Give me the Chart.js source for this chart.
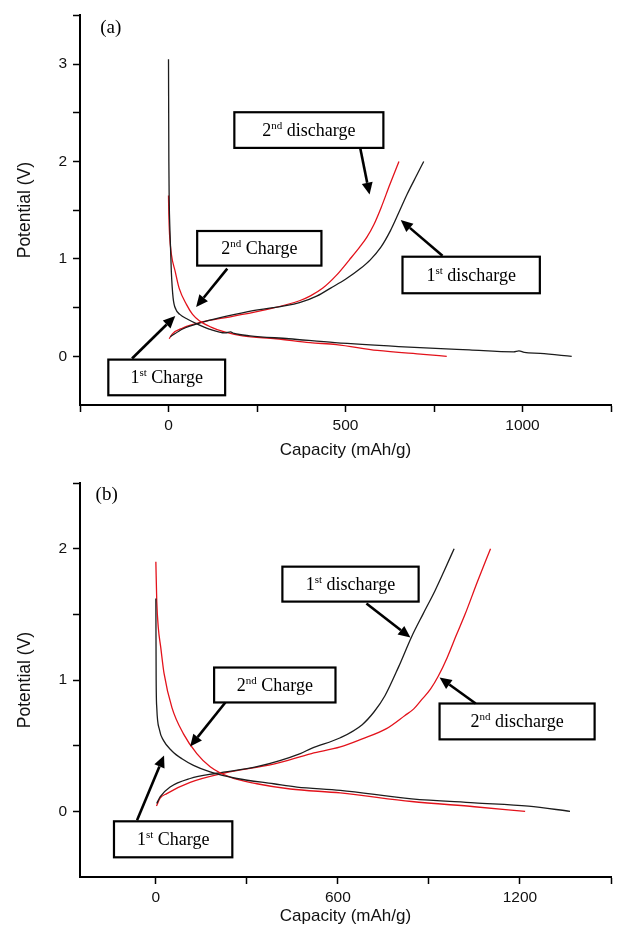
<!DOCTYPE html>
<html>
<head>
<meta charset="utf-8">
<script src="https://cdn.jsdelivr.net/npm/chart.js@4.4.1/dist/chart.umd.min.js"></script>
<style>
  html, body { margin: 0; padding: 0; background: #fff; }
  #wrap { position: relative; width: 622px; height: 928px; }
  canvas { position: absolute; left: 0; }
  #chartA { top: 0; }
  #chartB { top: 465px; }
</style>
</head>
<body>
<div id="wrap">
  <canvas id="chartA" width="622" height="465"></canvas>
  <canvas id="chartB" width="622" height="463"></canvas>
</div>
<script>
// ---- panel (a) data: capacity (mAh/g) / potential (V)
const aCharge1Cap = [0, 1, 2, 4, 8, 13, 21, 32, 54, 82, 115, 160, 175, 185, 230, 340, 470, 650, 850, 975, 990, 1005, 1050, 1139];
const aCharge1V   = [3.05, 2.0, 1.6, 1.3, 0.87, 0.6, 0.48, 0.43, 0.38, 0.33, 0.28, 0.24, 0.25, 0.235, 0.21, 0.18, 0.14, 0.10, 0.065, 0.045, 0.055, 0.04, 0.03, 0.0];
const aCharge2Cap = [0, 1, 3, 8, 19, 30, 51, 68, 87, 120, 158, 209, 304, 400, 474, 590, 720, 786];
const aCharge2V   = [1.65, 1.45, 1.25, 1.05, 0.87, 0.70, 0.53, 0.43, 0.365, 0.30, 0.25, 0.21, 0.18, 0.14, 0.12, 0.06, 0.02, 0.0];
const aDis1Cap = [5, 40, 87, 228, 370, 420, 458, 500, 542, 570, 600, 627, 650, 675, 700, 721];
const aDis1V   = [0.20, 0.28, 0.34, 0.46, 0.55, 0.62, 0.70, 0.79, 0.90, 0.99, 1.12, 1.29, 1.47, 1.67, 1.85, 2.0];
const aDis2Cap = [2, 11, 40, 87, 181, 276, 370, 401, 436, 474, 511, 540, 560, 580, 600, 625, 651];
const aDis2V   = [0.18, 0.23, 0.29, 0.345, 0.41, 0.48, 0.57, 0.62, 0.70, 0.83, 0.99, 1.12, 1.22, 1.35, 1.52, 1.76, 2.0];
const aXTicks = [-250, 0, 250, 500, 750, 1000, 1250];
const aXLabels = [0, 500, 1000];
const aYTicks = [0, 0.5, 1, 1.5, 2, 2.5, 3, 3.5];
const aYLabels = [0, 1, 2, 3];

// ---- panel (b) data
const bCharge1Cap = [0, 0.5, 1, 3, 12, 25, 53, 86, 124, 179, 267, 388, 465, 608, 843, 1050, 1228, 1365];
const bCharge1V   = [1.62, 1.3, 1.0, 0.79, 0.62, 0.54, 0.46, 0.40, 0.35, 0.30, 0.25, 0.21, 0.185, 0.16, 0.095, 0.065, 0.04, 0.0];
const bCharge2Cap = [0, 3, 8, 16, 27, 53, 91, 135, 179, 245, 333, 443, 608, 843, 1050, 1217];
const bCharge2V   = [1.90, 1.6, 1.4, 1.25, 1.05, 0.79, 0.59, 0.44, 0.34, 0.26, 0.21, 0.17, 0.14, 0.075, 0.035, 0.0];
const bDis1Cap = [3, 14, 47, 113, 201, 333, 476, 513, 608, 680, 720, 755, 800, 843, 880, 920, 950, 983];
const bDis1V   = [0.06, 0.11, 0.185, 0.25, 0.29, 0.34, 0.44, 0.48, 0.56, 0.66, 0.76, 0.88, 1.10, 1.33, 1.50, 1.68, 1.83, 2.0];
const bDis2Cap = [2, 14, 36, 113, 223, 388, 513, 608, 678, 760, 821, 850, 876, 905, 931, 960, 990, 1019, 1060, 1103];
const bDis2V   = [0.04, 0.10, 0.135, 0.22, 0.29, 0.36, 0.44, 0.49, 0.55, 0.63, 0.73, 0.78, 0.85, 0.93, 1.03, 1.17, 1.34, 1.50, 1.75, 2.0];
const bXTicks = [0, 300, 600, 900, 1200, 1500];
const bXLabels = [0, 600, 1200];
const bYTicks = [0, 0.5, 1, 1.5, 2, 2.5];
const bYLabels = [0, 1, 2];

const BLACK = '#1c1c1c';
const RED = '#e3121b';
const SANS = '"Liberation Sans", Arial, sans-serif';
const SERIF = '"Liberation Serif", "Times New Roman", serif';

function pts(cap, v) {
  return cap.map((c, i) => ({ x: c, y: v[i] }));
}

// callout boxes and arrows, given in data units
const aNotes = {
  tag: { text: '(a)', x: -163, y: 3.37 },
  boxes: [
    { num: '2', sup: 'nd', word: ' discharge', box: [186, 607, 2.505, 2.139], from: [542, 2.13], to: [568, 1.66] },
    { num: '1', sup: 'st', word: ' discharge', box: [661, 1049, 1.022, 0.647], from: [774, 1.033], to: [656, 1.398] },
    { num: '2', sup: 'nd', word: ' Charge', box: [81, 432, 1.286, 0.931], from: [166, 0.90], to: [78, 0.505] },
    { num: '1', sup: 'st', word: ' Charge', box: [-170, 160, -0.034, -0.40], from: [-103, -0.023], to: [19, 0.413] }
  ]
};
const bNotes = {
  tag: { text: '(b)', x: -162, y: 2.41 },
  boxes: [
    { num: '1', sup: 'st', word: ' discharge', box: [417, 866, 1.863, 1.597], from: [694, 1.582], to: [839, 1.323] },
    { num: '2', sup: 'nd', word: ' Charge', box: [192, 592, 1.095, 0.829], from: [229, 0.829], to: [113, 0.494] },
    { num: '1', sup: 'st', word: ' Charge', box: [-138, 252, -0.076, -0.35], from: [-62, -0.068], to: [27, 0.426] },
    { num: '2', sup: 'nd', word: ' discharge', box: [935, 1446, 0.821, 0.548], from: [1054, 0.821], to: [935, 1.019] }
  ]
};

const calloutPlugin = {
  id: 'callouts',
  afterDatasetsDraw(chart, args, opts) {
    const notes = opts.notes;
    if (!notes) return;
    const xs = chart.scales.x, ys = chart.scales.y;
    const ctx = chart.ctx;
    ctx.save();
    ctx.fillStyle = '#000';
    ctx.strokeStyle = '#000';

    // panel tag
    ctx.font = '19px ' + SERIF;
    ctx.textAlign = 'center';
    ctx.textBaseline = 'middle';
    ctx.fillText(notes.tag.text, xs.getPixelForValue(notes.tag.x), ys.getPixelForValue(notes.tag.y));

    notes.boxes.forEach(n => {
      const x0 = xs.getPixelForValue(n.box[0]);
      const x1 = xs.getPixelForValue(n.box[1]);
      const y0 = ys.getPixelForValue(n.box[2]);
      const y1 = ys.getPixelForValue(n.box[3]);
      ctx.fillStyle = '#fff';
      ctx.fillRect(x0, y0, x1 - x0, y1 - y0);
      ctx.lineWidth = 2.2;
      ctx.strokeRect(x0, y0, x1 - x0, y1 - y0);

      // text with superscript
      ctx.fillStyle = '#000';
      ctx.textAlign = 'left';
      ctx.textBaseline = 'alphabetic';
      const big = '18px ' + SERIF, small = '11px ' + SERIF;
      ctx.font = big;
      const wNum = ctx.measureText(n.num).width;
      const wWord = ctx.measureText(n.word).width;
      ctx.font = small;
      const wSup = ctx.measureText(n.sup).width;
      let tx = (x0 + x1) / 2 - (wNum + wSup + wWord) / 2;
      const base = (y0 + y1) / 2 + 6;
      ctx.font = big;
      ctx.fillText(n.num, tx, base);
      tx += wNum;
      ctx.font = small;
      ctx.fillText(n.sup, tx, base - 7);
      tx += wSup;
      ctx.font = big;
      ctx.fillText(n.word, tx, base);

      // arrow
      const ax = xs.getPixelForValue(n.from[0]), ay = ys.getPixelForValue(n.from[1]);
      const bx = xs.getPixelForValue(n.to[0]), by = ys.getPixelForValue(n.to[1]);
      const ang = Math.atan2(by - ay, bx - ax);
      const head = 12, half = 5.5;
      const hx = bx - head * Math.cos(ang), hy = by - head * Math.sin(ang);
      ctx.lineWidth = 2.6;
      ctx.beginPath();
      ctx.moveTo(ax, ay);
      ctx.lineTo(hx, hy);
      ctx.stroke();
      ctx.beginPath();
      ctx.moveTo(bx, by);
      ctx.lineTo(hx + half * Math.sin(ang), hy - half * Math.cos(ang));
      ctx.lineTo(hx - half * Math.sin(ang), hy + half * Math.cos(ang));
      ctx.closePath();
      ctx.fill();
    });
    ctx.restore();
  }
};

function lineSet(data, color) {
  return {
    data: data,
    borderColor: color,
    borderWidth: 1.3,
    pointRadius: 0,
    cubicInterpolationMode: 'monotone',
    fill: false
  };
}

function makeChart(id, cfg) {
  const axisBase = {
    type: 'linear',
    border: { display: true, color: '#000', width: 2 },
    grid: { drawOnChartArea: false, drawTicks: true, tickLength: 7, tickWidth: 1.5, tickColor: '#000' }
  };
  return new Chart(document.getElementById(id), {
    type: 'line',
    data: {
      datasets: [
        lineSet(pts(cfg.c1[0], cfg.c1[1]), BLACK),
        lineSet(pts(cfg.c2[0], cfg.c2[1]), RED),
        lineSet(pts(cfg.d1[0], cfg.d1[1]), BLACK),
        lineSet(pts(cfg.d2[0], cfg.d2[1]), RED)
      ]
    },
    options: {
      responsive: false,
      animation: false,
      devicePixelRatio: 1,
      layout: { padding: { top: cfg.padTop, right: 11, left: 0, bottom: 0 } },
      plugins: {
        legend: { display: false },
        tooltip: { enabled: false },
        callouts: { notes: cfg.notes }
      },
      scales: {
        x: Object.assign({}, axisBase, {
          min: cfg.xMin, max: cfg.xMax,
          afterBuildTicks: s => { s.ticks = cfg.xTicks.map(v => ({ value: v })); },
          afterFit: s => { s.height = cfg.xH; },
          ticks: {
            padding: 4, color: '#111', maxRotation: 0, autoSkip: false,
            font: { family: SANS, size: 15.5 },
            callback: v => cfg.xLabels.includes(v) ? String(v) : ''
          },
          title: {
            display: true, text: 'Capacity (mAh/g)', color: '#111',
            font: { family: SANS, size: 17 },
            padding: { top: 0, bottom: cfg.xTitlePad }
          }
        }),
        y: Object.assign({}, axisBase, {
          min: cfg.yMin, max: cfg.yMax,
          afterBuildTicks: s => { s.ticks = cfg.yTicks.map(v => ({ value: v })); },
          afterFit: s => { s.width = 80; },
          ticks: {
            padding: 6, color: '#111', autoSkip: false,
            font: { family: SANS, size: 15.5 },
            callback: v => cfg.yLabels.includes(v) ? String(v) : ''
          },
          title: {
            display: true, text: 'Potential (V)', color: '#111',
            font: { family: SANS, size: 17.5 },
            padding: { top: 14.5, bottom: 0 }
          }
        })
      }
    },
    plugins: [calloutPlugin]
  });
}

makeChart('chartA', {
  c1: [aCharge1Cap, aCharge1V], c2: [aCharge2Cap, aCharge2V],
  d1: [aDis1Cap, aDis1V], d2: [aDis2Cap, aDis2V],
  xMin: -250, xMax: 1250, yMin: -0.5, yMax: 3.5,
  xTicks: aXTicks, xLabels: aXLabels, yTicks: aYTicks, yLabels: aYLabels,
  padTop: 12, xH: 60, xTitlePad: 4.8, notes: aNotes
});

makeChart('chartB', {
  c1: [bCharge1Cap, bCharge1V], c2: [bCharge2Cap, bCharge2V],
  d1: [bDis1Cap, bDis1V], d2: [bDis2Cap, bDis2V],
  xMin: -250, xMax: 1500, yMin: -0.5, yMax: 2.5,
  xTicks: bXTicks, xLabels: bXLabels, yTicks: bYTicks, yLabels: bYLabels,
  padTop: 18, xH: 51, xTitlePad: 1.8, notes: bNotes
});
</script>
</body>
</html>
